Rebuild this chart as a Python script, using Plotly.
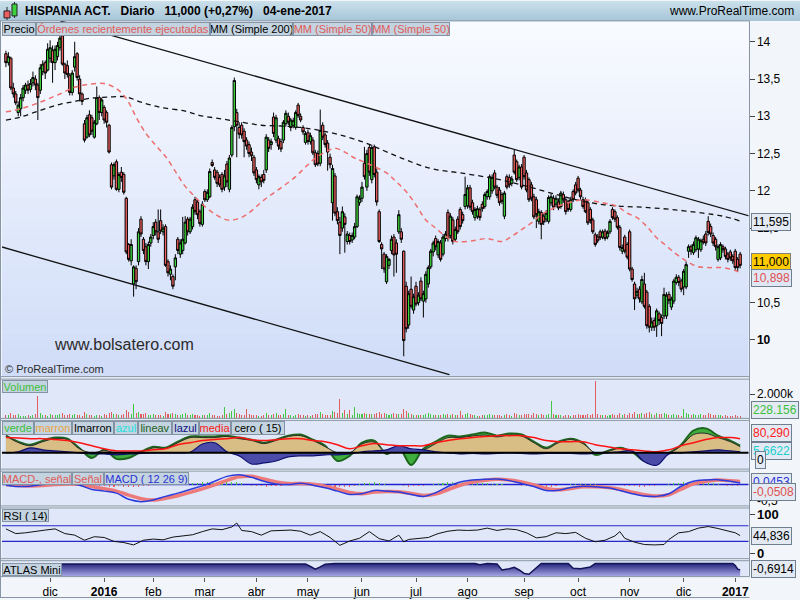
import pandas as pd
import plotly.graph_objects as go

# ---------------------------------------------------------------- DATA
TITLE = "HISPANIA ACT.\u00a0\u00a0\u00a0Diario\u00a0\u00a0\u00a011,000 (+0,27%)\u00a0\u00a0\u00a004-ene-2017"
START, END = "2015-11-05", "2017-01-04"
HOLIDAYS = ["2015-12-25", "2016-01-01", "2016-03-25", "2016-03-28", "2016-12-26"]
MONTHS_ES = ["ene", "feb", "mar", "abr", "may", "jun", "jul", "ago", "sep", "oct", "nov", "dic"]

OPEN = [13.84,13.72,13.78,13.38,13.30,13.05,13.10,13.25,13.35,13.42,
        13.36,13.45,13.50,13.42,13.35,13.60,13.72,13.62,13.78,13.88,
        13.72,13.80,13.92,14.08,13.70,13.68,13.55,13.32,13.66,13.84,
        13.50,13.30,12.90,12.72,13.02,12.98,12.72,12.90,13.25,13.05,
        13.12,13.05,12.88,12.35,12.20,12.39,12.02,12.25,12.22,11.90,
        11.28,11.06,10.75,10.96,11.05,11.62,11.35,11.25,11.05,11.30,
        11.40,11.58,11.45,11.60,11.45,11.52,11.05,10.88,10.85,10.98,
        11.35,11.15,11.20,11.30,11.62,11.45,11.52,11.88,11.85,11.72,
        11.55,11.99,11.88,11.92,12.38,12.28,12.25,12.18,12.22,12.05,
        12.36,12.02,12.48,12.86,13.05,12.85,12.88,12.80,12.68,12.62,
        12.52,12.45,12.28,12.08,12.18,12.22,12.28,12.68,12.62,12.99,
        12.68,12.70,12.66,12.68,12.90,13.00,12.85,12.88,12.85,13.15,
        13.00,12.85,12.65,12.78,12.66,12.68,12.51,12.50,12.37,12.88,
        12.75,12.64,12.45,11.84,12.20,11.72,11.58,11.50,11.65,11.32,
        11.40,11.34,11.38,11.52,11.84,11.90,12.37,12.05,12.58,12.15,
        12.59,12.25,11.72,11.28,11.15,10.78,11.00,11.20,11.38,11.30,
        11.45,11.45,11.19,10.72,10.20,10.68,10.40,10.72,10.50,10.79,
        10.52,10.55,10.75,10.98,11.18,11.36,11.14,11.30,11.15,11.36,
        11.71,11.40,11.61,11.35,11.62,11.75,11.68,11.79,11.80,12.04,
        11.84,11.64,11.66,11.75,11.82,11.79,11.92,11.92,12.00,12.24,
        12.05,12.01,11.95,11.66,12.19,12.18,12.10,12.48,12.39,12.18,
        12.32,12.45,12.24,12.15,12.08,11.92,11.88,11.59,11.71,11.66,
        11.62,11.59,11.84,11.90,11.82,11.85,11.79,11.95,11.88,11.85,
        11.75,11.99,12.08,12.17,12.01,11.88,11.88,11.84,11.75,11.61,
        11.41,11.38,11.45,11.38,11.46,11.38,11.45,11.75,11.72,11.64,
        11.51,11.19,11.38,11.28,11.45,10.95,10.75,10.60,10.68,10.51,
        10.75,10.64,10.45,10.17,10.26,10.19,10.35,10.30,10.32,10.32,
        10.61,10.44,10.52,10.77,10.84,10.79,10.71,10.71,11.19,11.25,
        11.17,11.21,11.22,11.21,11.35,11.42,11.59,11.52,11.40,11.35,
        11.08,11.10,11.25,11.22,11.15,11.18,11.12,11.19,11.08,11.15]
HIGH = [13.88,13.86,13.80,13.45,13.34,13.20,13.30,13.42,13.45,13.48,
        13.50,13.60,13.55,13.45,13.70,13.75,13.75,13.98,14.02,13.95,
        13.95,14.00,14.10,14.12,13.72,13.75,13.58,13.62,14.00,13.86,
        13.55,13.32,12.95,13.02,13.08,13.02,12.95,13.40,13.28,13.25,
        13.15,13.08,12.90,12.38,12.38,12.42,12.25,12.32,12.25,11.92,
        11.30,11.35,11.00,11.00,11.50,11.66,11.38,11.30,11.32,11.42,
        11.58,11.62,11.75,11.75,11.55,11.55,11.08,11.00,10.88,11.15,
        11.38,11.35,11.65,11.66,11.65,11.65,11.82,11.92,11.88,11.75,
        11.86,12.02,12.02,12.30,12.42,12.32,12.28,12.22,12.25,12.28,
        12.40,12.48,12.88,13.52,13.10,12.92,12.92,12.84,12.72,12.66,
        12.58,12.48,12.32,12.22,12.22,12.28,12.76,12.72,12.70,13.05,
        13.02,12.74,12.70,12.95,13.08,13.05,12.98,12.98,13.08,13.18,
        13.04,12.88,12.80,12.82,12.78,12.72,12.55,12.54,13.09,12.92,
        12.78,12.68,12.50,12.35,12.24,11.78,11.65,11.79,11.70,11.46,
        11.44,11.44,11.57,11.95,11.94,12.12,12.59,12.55,12.62,12.62,
        12.62,12.30,11.75,11.31,11.18,11.15,11.10,11.40,11.42,11.35,
        11.74,11.50,11.20,10.78,10.66,10.85,10.62,10.78,10.64,10.84,
        10.66,10.92,11.00,11.22,11.33,11.40,11.35,11.34,11.42,11.46,
        11.75,11.70,11.65,11.52,11.66,11.78,11.72,12.19,12.08,12.08,
        11.88,11.78,11.80,11.78,11.86,11.98,12.02,12.22,12.22,12.28,
        12.08,12.05,11.98,12.00,12.22,12.22,12.20,12.55,12.42,12.35,
        12.36,12.48,12.28,12.18,12.12,11.96,11.92,11.76,11.74,11.70,
        11.74,11.94,11.96,11.94,11.94,11.90,12.00,11.99,11.92,11.88,
        11.92,12.02,12.12,12.20,12.04,11.92,11.91,11.87,11.78,11.64,
        11.44,11.42,11.48,11.48,11.49,11.47,11.62,11.78,11.75,11.67,
        11.54,11.28,11.41,11.31,11.48,10.98,10.78,10.70,10.72,10.86,
        10.90,10.67,10.48,10.30,10.30,10.42,10.38,10.34,10.70,10.64,
        10.65,10.58,10.82,10.88,10.87,10.82,10.95,11.05,11.28,11.28,
        11.32,11.40,11.38,11.36,11.40,11.46,11.66,11.56,11.44,11.38,
        11.28,11.31,11.28,11.25,11.18,11.21,11.15,11.22,11.11,11.18]
LOW = [13.66,13.68,13.35,13.25,13.15,13.00,13.00,13.20,13.30,13.30,
       13.32,13.40,13.35,12.95,13.30,13.55,13.50,13.60,13.72,13.45,
       13.62,13.75,13.88,13.68,13.50,13.52,13.28,13.28,13.60,13.48,
       13.20,13.15,12.65,12.70,12.72,12.75,12.70,12.88,12.95,13.00,
       12.90,12.85,12.50,12.02,12.15,12.00,11.98,12.12,11.95,11.15,
       11.05,11.00,10.58,10.68,11.00,11.38,11.15,11.00,10.95,11.25,
       11.35,11.40,11.30,11.42,11.40,10.98,10.85,10.80,10.68,10.80,
       11.15,11.10,11.15,11.28,11.40,11.42,11.48,11.68,11.62,11.52,
       11.52,11.85,11.85,11.90,12.32,12.15,12.05,12.05,11.98,12.00,
       12.05,11.98,12.45,12.80,12.45,12.70,12.70,12.45,12.55,12.45,
       12.40,12.20,12.10,12.02,12.05,12.10,12.24,12.52,12.55,12.72,
       12.64,12.55,12.52,12.64,12.86,12.88,12.80,12.84,12.82,12.98,
       12.92,12.75,12.62,12.62,12.62,12.48,12.32,12.33,12.33,12.68,
       12.58,12.27,12.30,11.60,11.66,11.55,11.15,11.45,11.17,11.28,
       11.28,11.30,11.35,11.50,11.80,11.85,12.15,12.00,12.20,12.10,
       12.18,11.80,11.30,10.95,10.90,10.75,10.95,11.15,10.85,10.90,
       11.42,11.30,9.78,10.10,10.15,10.42,10.35,10.45,10.46,10.52,
       10.30,10.50,10.70,10.95,11.12,11.20,11.10,11.05,11.12,11.32,
       11.32,11.36,11.28,11.32,11.42,11.48,11.56,11.75,11.76,11.74,
       11.68,11.60,11.62,11.60,11.72,11.76,11.88,11.88,11.96,12.02,
       11.90,11.80,11.82,11.62,12.02,12.04,12.06,12.22,12.12,12.14,
       12.02,12.15,11.98,11.85,11.86,11.62,11.50,11.55,11.35,11.54,
       11.58,11.56,11.80,11.74,11.78,11.74,11.76,11.84,11.68,11.72,
       11.72,11.85,11.94,11.98,11.88,11.76,11.70,11.54,11.56,11.42,
       11.25,11.30,11.34,11.35,11.33,11.35,11.42,11.61,11.58,11.48,
       11.20,11.15,11.16,11.08,10.92,10.78,10.40,10.56,10.50,10.48,
       10.42,10.15,10.10,10.12,10.12,10.04,10.20,10.05,10.28,10.28,
       10.48,10.40,10.48,10.74,10.72,10.64,10.60,10.68,11.10,11.14,
       11.14,11.18,11.10,11.18,11.28,11.26,11.40,11.38,11.26,11.20,
       11.05,11.07,11.17,11.08,11.04,11.06,11.02,10.94,10.92,10.96]
CLOSE = [13.72,13.80,13.38,13.30,13.18,13.15,13.25,13.38,13.42,13.35,
         13.44,13.52,13.42,13.25,13.65,13.70,13.58,13.90,13.92,13.72,
         13.90,13.95,14.05,13.70,13.58,13.56,13.32,13.58,13.80,13.52,
         13.30,13.20,12.68,12.98,12.75,12.80,12.92,13.25,13.05,13.22,
         12.95,12.92,12.52,12.05,12.35,12.02,12.22,12.18,11.98,11.18,
         11.08,11.28,10.98,10.78,11.45,11.42,11.20,11.05,11.28,11.38,
         11.52,11.45,11.35,11.46,11.50,11.00,10.90,10.95,10.72,11.10,
         11.20,11.30,11.35,11.58,11.45,11.62,11.78,11.72,11.68,11.56,
         11.82,11.88,11.98,12.26,12.34,12.18,12.10,12.08,12.02,12.20,
         12.12,12.44,12.85,13.48,12.88,12.76,12.75,12.66,12.60,12.50,
         12.47,12.24,12.15,12.19,12.12,12.14,12.72,12.57,12.66,12.77,
         12.98,12.60,12.56,12.92,13.04,12.92,12.95,12.94,13.05,13.01,
         12.95,12.79,12.77,12.66,12.74,12.51,12.35,12.36,12.81,12.72,
         12.62,12.52,12.35,12.30,11.70,11.60,11.40,11.72,11.55,11.42,
         11.32,11.40,11.52,11.92,11.90,12.05,12.19,12.50,12.25,12.58,
         12.22,11.85,11.32,11.22,10.95,11.12,11.08,11.35,11.14,11.15,
         11.68,11.35,9.99,10.15,10.62,10.45,10.58,10.48,10.60,10.55,
         10.62,10.88,10.97,11.19,11.30,11.25,11.32,11.08,11.38,11.42,
         11.36,11.66,11.32,11.48,11.45,11.52,11.60,11.95,12.04,11.78,
         11.72,11.75,11.76,11.64,11.76,11.95,11.99,12.19,12.18,12.05,
         11.94,11.84,11.86,11.97,12.05,12.08,12.16,12.25,12.15,12.32,
         12.05,12.19,12.01,11.88,11.90,11.65,11.68,11.72,11.55,11.58,
         11.70,11.91,11.92,11.78,11.90,11.77,11.97,11.88,11.72,11.75,
         11.88,11.88,11.97,12.01,11.92,11.79,11.72,11.57,11.60,11.45,
         11.28,11.33,11.37,11.45,11.36,11.44,11.59,11.64,11.62,11.51,
         11.24,11.24,11.19,11.11,10.95,10.81,10.55,10.65,10.55,10.81,
         10.45,10.19,10.17,10.24,10.17,10.39,10.26,10.22,10.61,10.60,
         10.53,10.55,10.79,10.84,10.77,10.68,10.92,11.01,11.25,11.19,
         11.28,11.37,11.35,11.33,11.31,11.30,11.44,11.42,11.30,11.25,
         11.25,11.28,11.21,11.12,11.08,11.10,11.06,10.97,10.97,11.00]
# volume in thousands of shares
VOLUME = [320,280,450,300,260,380,240,210,190,260,230,280,350,1860,420,300,260,240,380,290,
          250,300,340,420,280,260,350,300,380,260,310,240,520,330,280,250,220,300,260,180,
          350,290,420,560,330,380,300,260,340,680,520,400,1170,460,520,380,340,420,300,280,
          330,280,300,260,240,520,400,350,420,380,300,260,340,420,300,280,350,300,260,240,
          320,280,260,450,300,260,240,220,280,920,380,460,600,750,420,350,300,280,750,330,
          280,260,300,240,220,260,480,300,260,380,420,300,260,350,750,300,280,240,320,350,
          280,300,240,260,230,300,380,340,520,360,300,280,320,640,520,420,1580,480,700,380,
          700,300,920,420,330,360,420,380,350,400,360,420,520,400,460,380,300,340,420,380,
          350,400,750,620,450,380,300,320,260,280,250,380,420,380,300,280,260,300,350,280,
          360,300,330,260,280,650,300,360,420,330,280,250,240,220,260,300,280,360,320,300,
          260,280,240,300,330,260,240,420,350,280,300,380,330,360,300,420,400,300,360,280,
          260,380,1440,330,300,260,280,240,300,260,240,300,280,350,260,300,280,380,300,330,
          3100,380,300,260,280,240,300,330,260,280,420,300,350,300,450,400,520,380,340,420,
          380,450,500,340,300,420,330,360,480,400,300,280,360,300,260,240,750,420,380,300,
          330,300,280,350,260,300,420,330,300,260,280,250,240,300,220,200,180,260,240,228.156]

MM200_X = [0,6,14,22,28,34,43,49,55,63,73,79,87,96,104,112,120,128,136,145,
           151,161,173,185,198,210,222,235,247,259,271,284,292,299]
MM200 = [12.95,12.99,13.08,13.16,13.20,13.24,13.26,13.26,13.19,13.12,13.07,13.01,12.97,12.92,
         12.88,12.87,12.85,12.81,12.75,12.66,12.58,12.44,12.30,12.24,12.17,12.08,11.97,11.86,
         11.80,11.78,11.75,11.70,11.66,11.595]
MM50_X = [0,6,14,22,28,34,40,45,49,53,57,61,65,69,73,77,81,85,90,94,98,102,106,112,118,122,
          126,130,134,138,142,147,155,159,163,167,171,175,179,183,190,196,202,206,210,214,218,
          222,226,229,235,243,249,253,257,261,265,269,273,277,281,286,292,297,299]
MM50 = [13.06,13.10,13.19,13.30,13.39,13.43,13.44,13.37,13.24,12.99,12.77,12.61,12.46,12.26,
        12.06,11.92,11.79,11.69,11.61,11.62,11.68,11.79,11.90,12.04,12.19,12.32,12.44,12.52,
        12.57,12.52,12.44,12.37,12.24,12.12,11.99,11.81,11.61,11.50,11.39,11.32,11.33,11.36,
        11.32,11.39,11.48,11.57,11.68,11.75,11.81,11.84,11.88,11.84,11.79,11.70,11.64,11.52,
        11.37,11.26,11.15,11.06,10.99,10.97,10.97,10.93,10.898]
CHANNEL_UP_X, CHANNEL_UP = [22.1, 303.0], [14.28, 11.66]
CHANNEL_LO_X, CHANNEL_LO = [-2.4, 180.6], [11.253, 9.533]

K_X = [0,5,10,15,20,25,30,35,40,45,50,55,60,65,70,75,80,85,90,95,100,105,110,115,120,125,
       130,135,140,145,150,155,160,165,170,175,180,185,190,195,200,205,210,215,220,225,230,
       235,240,245,250,255,260,265,270,275,280,285,290,295,299]
VERDE = [97,63,46,69,86,80,25,-29,17,-34,-29,6,34,29,63,92,92,92,97,86,74,57,74,97,103,74,
         40,-46,-17,57,69,-6,29,-69,23,63,97,92,103,115,97,109,103,63,29,63,80,57,-11,11,29,
         6,-46,-34,0,46,126,138,97,69,40]
MARRON = [95,58,40,63,80,75,22,0,12,0,0,4,28,25,57,86,86,86,92,80,70,52,70,92,97,70,35,0,0,
          50,60,0,25,0,15,52,86,86,95,100,90,100,95,57,23,57,75,52,0,8,25,4,0,0,0,40,103,110,
          86,63,35]
AZUL = [0,6,28,17,11,6,0,-6,-6,-11,-6,-3,0,0,0,3,50,57,6,-17,-63,-57,-46,-23,-17,-17,-11,
        -11,-6,6,11,17,40,23,17,6,0,-6,-3,-6,-3,0,-3,-6,-3,-3,-3,-6,-3,0,6,11,-50,-70,-6,0,
        6,11,17,11,6]
MEDIA = [86,83,80,80,75,69,57,40,23,11,11,11,17,23,46,57,69,75,80,86,74,69,74,80,80,69,63,
         46,23,40,52,46,40,40,40,57,69,80,86,92,97,97,97,86,69,63,63,63,46,34,23,17,11,6,17,
         40,57,75,86,86,80]

MACD = [-0.02,-0.06,-0.05,0.0,0.04,0.03,-0.02,-0.15,-0.20,-0.26,-0.45,-0.52,-0.47,-0.36,
        -0.26,-0.15,-0.04,0.10,0.25,0.30,0.22,0.10,0.02,0.0,0.04,-0.02,-0.10,-0.20,-0.30,
        -0.28,-0.18,-0.20,-0.23,-0.30,-0.36,-0.25,-0.06,0.08,0.14,0.16,0.17,0.12,0.03,-0.06,
        -0.18,-0.17,-0.09,-0.05,-0.07,-0.10,-0.18,-0.28,-0.35,-0.36,-0.28,-0.05,0.10,0.14,
        0.15,0.10,0.045]
SIGNAL = [0.0,-0.03,-0.04,-0.03,0.0,0.02,0.01,-0.06,-0.13,-0.20,-0.32,-0.43,-0.47,-0.42,
          -0.34,-0.24,-0.13,-0.01,0.13,0.24,0.25,0.17,0.08,0.03,0.03,0.01,-0.05,-0.14,-0.24,
          -0.28,-0.23,-0.21,-0.22,-0.27,-0.33,-0.29,-0.16,-0.02,0.08,0.13,0.16,0.14,0.08,
          -0.01,-0.12,-0.16,-0.12,-0.07,-0.07,-0.09,-0.14,-0.23,-0.31,-0.35,-0.31,-0.14,0.02,
          0.10,0.14,0.12,0.096]
HIST_X = list(range(0, 300, 2))
HIST = [-0.01,-0.02,-0.02,-0.01,0.01,0.02,0.03,0.03,0.02,0.02,
        0.01,0.0,-0.01,-0.02,-0.03,-0.04,-0.04,-0.05,-0.05,-0.04,
        -0.05,-0.06,-0.06,-0.05,-0.07,-0.08,-0.08,-0.06,-0.05,-0.03,
        -0.01,0.01,0.02,0.03,0.03,0.04,0.05,0.06,0.06,0.06,
        0.07,0.07,0.08,0.08,0.09,0.08,0.09,0.08,0.04,0.0,
        -0.03,-0.05,-0.05,-0.06,-0.05,-0.04,-0.03,-0.02,0.0,0.01,
        0.01,0.0,-0.02,-0.03,-0.05,-0.06,-0.07,-0.07,-0.08,-0.07,
        -0.06,-0.03,0.01,0.04,0.06,0.07,0.06,0.03,0.0,-0.02,
        -0.02,-0.04,-0.06,-0.05,-0.04,-0.03,-0.01,0.02,0.04,0.06,
        0.07,0.08,0.08,0.07,0.06,0.05,0.05,0.04,0.04,0.03,
        0.02,0.01,0.0,-0.01,-0.02,-0.03,-0.04,-0.05,-0.06,-0.07,
        -0.07,-0.06,-0.04,-0.02,-0.01,0.01,0.02,0.03,0.03,0.02,
        0.01,-0.01,-0.02,-0.02,-0.01,-0.02,-0.03,-0.04,-0.05,-0.06,
        -0.06,-0.05,-0.04,-0.02,0.0,0.02,0.04,0.06,0.08,0.09,
        0.10,0.09,0.08,0.06,0.04,0.02,-0.01,-0.03,-0.04,-0.05]

RSI_X = [0,4,8,12,16,20,24,28,32,36,40,44,48,52,56,60,64,68,72,76,80,84,88,92,94,96,100,
         104,108,112,116,120,124,128,132,136,140,144,148,152,156,160,162,164,168,172,176,
         180,184,188,192,196,200,204,208,212,216,220,224,228,232,236,240,244,248,250,252,
         256,260,264,268,270,274,278,282,286,290,294,297,299]
RSI = [62,50,52,56,59,62,50,46,33,42,40,30,27,21,33,36,34,41,44,47,55,62,60,67,77,58,55,
       46,57,58,59,56,46,55,40,20,31,38,55,37,31,46,29,35,37,40,50,56,59,58,59,64,58,62,60,
       52,39,42,52,50,53,38,29,33,44,55,38,28,22,21,22,35,52,55,64,68,63,57,52,44.836]

ATLAS_X = [-2,122,124,126,128,130,134,191,193,196,200,202,205,207,209,211,213,215,218,229,
           231,234,236,238,240,296,297,298,299]
ATLAS = [0.0,0.0,-0.3,-0.6,-0.35,-0.05,0.05,0.05,-0.1,0.05,0.0,-0.7,-0.55,-0.4,-0.7,-1.1,
         -1.2,-0.7,0.05,0.05,-0.5,-0.55,-0.45,-0.35,0.05,0.05,-0.2,-0.6,-0.6914]

# ---------------------------------------------------------------- STYLE / LAYOUT
FONT = "Liberation Sans, Arial, sans-serif"
W, H = 800, 600
PX_L, PX_R = 2, 748.5
PANELS = {"price": (20, 377.5), "vol": (380, 419.5), "kon": (421.5, 470.5),
          "macd": (472.5, 507.5), "rsi": (509.5, 560.5), "atlas": (562.5, 578.5)}
RANGES = {"price": [9.507, 14.28], "vol": [0, 3250], "kon": [-92, 183],
          "macd": [-0.652, 0.409], "rsi": [-14.3, 115.6], "atlas": [-1.463, 0.366]}
ATLAS_FLOOR = RANGES["atlas"][0]


def fx(px):
    return px / W


def fy(py):
    return 1 - py / H


dates = pd.bdate_range(START, END)
dates = dates[~dates.isin(pd.to_datetime(HOLIDAYS))]
N = len(CLOSE)
X = list(range(N))

tickvals, ticktext = [], []
for i in range(1, min(len(dates), N + 3)):
    d = dates[i]
    if d.month != dates[i - 1].month:
        tickvals.append(i)
        ticktext.append(f"<b>{d.year}</b>" if d.month == 1 else MONTHS_ES[d.month - 1])

fig = go.Figure()
common = dict(hoverinfo="skip", showlegend=False)

# channel lines
fig.add_trace(go.Scatter(x=CHANNEL_UP_X, y=CHANNEL_UP, mode="lines",
                         line=dict(color="#111111", width=1.3), xaxis="x", yaxis="y", **common))
fig.add_trace(go.Scatter(x=CHANNEL_LO_X, y=CHANNEL_LO, mode="lines",
                         line=dict(color="#111111", width=1.3), xaxis="x", yaxis="y", **common))
# candles
fig.add_trace(go.Candlestick(x=X, open=OPEN, high=HIGH, low=LOW, close=CLOSE,
                             increasing=dict(fillcolor="#3cd43c", line=dict(color="#000000", width=1)),
                             decreasing=dict(fillcolor="#ee5f5f", line=dict(color="#000000", width=1)),
                             whiskerwidth=0, xaxis="x", yaxis="y", hoverinfo="skip", showlegend=False))
# moving averages
fig.add_trace(go.Scatter(x=MM200_X, y=MM200, mode="lines", line_shape="spline",
                         line=dict(color="#111111", width=1.3, dash="5px,4px"),
                         xaxis="x", yaxis="y", **common))
fig.add_trace(go.Scatter(x=MM50_X, y=MM50, mode="lines", line_shape="spline",
                         line=dict(color="#ee6e6e", width=1.5, dash="5px,4px"),
                         xaxis="x", yaxis="y", **common))

# volume
vcol = ["#44c844" if c >= o else "#e25d5d" for o, c in zip(OPEN, CLOSE)]
fig.add_trace(go.Bar(x=X, y=VOLUME, marker=dict(color=vcol, line=dict(width=0)), width=0.42,
                     xaxis="x", yaxis="y2", **common))

# Koncorde-type indicator
kw = dict(mode="lines", line_shape="spline", xaxis="x", yaxis="y3", **common)
fig.add_trace(go.Scatter(x=K_X, y=VERDE, fill="tozeroy", fillcolor="#3fae3f",
                         line=dict(color="#1d661d", width=2), **kw))
fig.add_trace(go.Scatter(x=K_X, y=MARRON, fill="tozeroy", fillcolor="#d8bd84",
                         line=dict(color="#2a2a2a", width=1), **kw))
fig.add_trace(go.Scatter(x=K_X, y=AZUL, fill="tozeroy", fillcolor="#4b4ca8",
                         line=dict(color="#101070", width=1.2), **kw))
fig.add_trace(go.Scatter(x=K_X, y=MEDIA, line=dict(color="#ff1414", width=1.5), **kw))

# MACD
hcol = ["#44c844" if v >= 0 else "#e25d5d" for v in HIST]
fig.add_trace(go.Bar(x=HIST_X, y=HIST, marker=dict(color=hcol, line=dict(width=0)), width=0.45,
                     xaxis="x", yaxis="y4", **common))
fig.add_trace(go.Scatter(x=K_X, y=SIGNAL, mode="lines", line_shape="spline",
                         line=dict(color="#ec7a7a", width=3.5), xaxis="x", yaxis="y4", **common))
fig.add_trace(go.Scatter(x=K_X, y=MACD, mode="lines", line_shape="spline",
                         line=dict(color="#2b3bdc", width=1.5), xaxis="x", yaxis="y4", **common))

# RSI
fig.add_trace(go.Scatter(x=RSI_X, y=RSI, mode="lines", line=dict(color="#111111", width=1),
                         xaxis="x", yaxis="y5", **common))

# ATLAS Mini
fig.add_trace(go.Scatter(x=ATLAS_X, y=[ATLAS_FLOOR] * len(ATLAS_X), mode="lines",
                         line=dict(width=0, color="rgba(0,0,0,0)"), xaxis="x", yaxis="y6", **common))
fig.add_trace(go.Scatter(x=ATLAS_X, y=ATLAS, mode="lines", fill="tonexty",
                         fillgradient=dict(type="vertical",
                                           colorscale=[[0, "#a9a9ea"], [1, "#26267c"]]),
                         line=dict(color="#14145a", width=1.5), xaxis="x", yaxis="y6", **common))

# ---------------------------------------------------------------- shapes
shapes = []
# title bar gradient
tb_top, tb_bot = (203, 224, 235), (166, 197, 215)
for k in range(10):
    t = (k + 0.5) / 10
    c = tuple(round(tb_top[j] + (tb_bot[j] - tb_top[j]) * t) for j in range(3))
    shapes.append(dict(type="rect", xref="paper", yref="paper", x0=0, x1=1,
                       y0=fy(2 * (k + 1)), y1=fy(2 * k), fillcolor=f"rgb{c}", line_width=0, layer="below"))
# price panel gradient
top, bot = (249, 251, 255), (207, 220, 248)
p0, p1 = PANELS["price"]
nb = 40
for k in range(nb):
    a = p0 + (p1 - p0) * k / nb
    b = p0 + (p1 - p0) * (k + 1) / nb
    t = (k + 0.5) / nb
    c = tuple(round(top[j] + (bot[j] - top[j]) * t) for j in range(3))
    shapes.append(dict(type="rect", xref="paper", yref="paper", x0=fx(PX_L), x1=fx(PX_R),
                       y0=fy(b + 0.3), y1=fy(a), fillcolor=f"rgb{c}", line_width=0, layer="below"))
# lower panels background
for key in ["vol", "kon", "macd", "rsi", "atlas"]:
    a, b = PANELS[key]
    shapes.append(dict(type="rect", xref="paper", yref="paper", x0=fx(PX_L), x1=fx(PX_R),
                       y0=fy(b), y1=fy(a), fillcolor="#dfe7f8", line_width=0, layer="below"))
# reference lines
shapes.append(dict(type="line", xref="paper", yref="y3", x0=fx(PX_L), x1=fx(PX_R), y0=0, y1=0,
                   line=dict(color="#000000", width=2)))
shapes.append(dict(type="line", xref="paper", yref="y4", x0=fx(PX_L), x1=fx(PX_R), y0=0, y1=0,
                   line=dict(color="#2020d0", width=1.5), layer="below"))
for lvl in (70, 30):
    shapes.append(dict(type="line", xref="paper", yref="y5", x0=fx(PX_L), x1=fx(PX_R), y0=lvl, y1=lvl,
                       line=dict(color="#2828c8", width=1.2), layer="below"))
# separators
SEP = "#8796a6"
for py in [20, 377.5, 380, 419.5, 421.5, 470.5, 472.5, 507.5, 509.5, 560.5, 562.5, 578.5, 599.5]:
    shapes.append(dict(type="line", xref="paper", yref="paper", x0=0, x1=fx(749.5), y0=fy(py), y1=fy(py),
                       line=dict(color=SEP, width=1)))
shapes.append(dict(type="line", xref="paper", yref="paper", x0=fx(749.5), x1=fx(749.5),
                   y0=fy(578.5), y1=fy(20), line=dict(color=SEP, width=1)))
shapes.append(dict(type="line", xref="paper", yref="paper", x0=fx(0.5), x1=fx(0.5),
                   y0=0, y1=fy(20), line=dict(color=SEP, width=1)))
# icon in title bar
shapes += [
    dict(type="line", xref="paper", yref="paper", x0=fx(7), x1=fx(7), y0=fy(19), y1=fy(6),
         line=dict(color="#222", width=1)),
    dict(type="rect", xref="paper", yref="paper", x0=fx(4), x1=fx(10), y0=fy(17), y1=fy(10),
         fillcolor="#ee5f5f", line=dict(color="#222", width=1)),
    dict(type="line", xref="paper", yref="paper", x0=fx(14.5), x1=fx(14.5), y0=fy(17), y1=fy(1),
         line=dict(color="#222", width=1)),
    dict(type="rect", xref="paper", yref="paper", x0=fx(12), x1=fx(17), y0=fy(15), y1=fy(3),
         fillcolor="#3cd43c", line=dict(color="#222", width=1)),
]

# ---------------------------------------------------------------- annotations
ann = []
LBOX_FONT = 11


def text_at(txt, px, py, size=12, color="#000", anchor="left", bold=False):
    ann.append(dict(text=f"<b>{txt}</b>" if bold else txt, x=fx(px), y=fy(py), xref="paper",
                    yref="paper", xanchor=anchor, yanchor="middle", showarrow=False,
                    font=dict(family=FONT, size=size, color=color)))


def lbox(txt, px0, px1, py0, py1, color):
    ann.append(dict(text=txt, x=fx(px0), y=fy((py0 + py1) / 2), xref="paper", yref="paper",
                    xanchor="left", yanchor="middle", showarrow=False, align="center",
                    width=px1 - px0 - 2, height=py1 - py0 - 2, borderpad=0,
                    bgcolor="#c3d3df", bordercolor="#8494a4", borderwidth=1,
                    font=dict(family=FONT, size=LBOX_FONT, color=color)))


def vbox(txt, py, color, bg="#e3eaf3", border="#6f7f8f", px=751):
    ann.append(dict(text=txt, x=fx(px), y=fy(py), xref="paper", yref="paper",
                    xanchor="left", yanchor="middle", showarrow=False,
                    bgcolor=bg, bordercolor=border, borderwidth=1, borderpad=1,
                    font=dict(family=FONT, size=12, color=color)))


text_at(TITLE, 23, 10, size=12, bold=True)
text_at("www.ProRealTime.com", 796, 10, size=12, anchor="right")

lbox("Precio", 2, 36, 21, 35, "#000000")
lbox("Órdenes recientemente ejecutadas", 36, 210, 21, 35, "#e05a5a")
lbox("MM (Simple 200)", 210, 293, 21, 35, "#000000")
lbox("MM (Simple 50)", 293, 372, 21, 35, "#e05a5a")
lbox("MM (Simple 50)", 372, 450, 21, 35, "#e05a5a")

lbox("Volumen", 2, 48, 380.5, 393.5, "#3cbf3c")

for txt, a, b, col in [("verde", 2, 34, "#3cbf3c"), ("marron", 34, 72, "#f0a444"),
                       ("lmarron", 72, 114, "#000000"), ("azul", 114, 138, "#22e0e0"),
                       ("lineav", 138, 172, "#1f5f1f"), ("lazul", 172, 199, "#101080"),
                       ("media", 199, 231, "#ff1a1a"), ("cero ( 15)", 231, 285, "#000000")]:
    lbox(txt, a, b, 422, 436, col)

for txt, a, b, col in [("MACD-, señal", 2, 72, "#e05a5a"), ("Señal", 72, 104, "#e05a5a"),
                       ("MACD ( 12 26 9)", 104, 189, "#2a32d8")]:
    lbox(txt, a, b, 473, 486, col)

lbox("RSI ( 14)", 2, 49, 510.5, 523.5, "#000000")
lbox("ATLAS Mini", 2, 62, 564.5, 577.5, "#000000")

text_at("www.bolsatero.com", 52, 345, size=16, color="#2a2a2a")
text_at("© ProRealTime.com", 3, 370, size=11, color="#2a2a2a")

vbox("11,595", 222.5, "#000000")
vbox("11,000", 262, "#000000", bg="#ffcc00", border="#808080")
vbox("10,898", 278.5, "#e05050", bg="#dfe7f4")
vbox("228.156", 411, "#3cbf3c")
vbox("80,290", 434, "#ff2020")
vbox("5,6622", 452, "#18d0d0")
vbox("0", 461.5, "#000000", px=755)
vbox("0,0453", 483.5, "#2a32d8")
vbox("-0,0508", 493.5, "#e05050")
vbox("44,836", 538, "#000000")
vbox("-0,6914", 570.5, "#000000")

# ---------------------------------------------------------------- axes
layout = dict(width=W, height=H, margin=dict(l=0, r=0, t=0, b=0),
              paper_bgcolor="#f2f5f9", plot_bgcolor="rgba(0,0,0,0)",
              showlegend=False, hovermode=False, dragmode=False,
              boxgap=0.05, boxgroupgap=0, bargap=0,
              font=dict(family=FONT, size=12, color="#000"),
              shapes=shapes, annotations=ann)

layout["xaxis"] = dict(domain=[fx(PX_L), fx(PX_R)], range=[-1.6, 302.4], anchor="y6",
                       tickvals=tickvals, ticktext=ticktext, ticks="outside", ticklen=4,
                       tickcolor="#555", tickfont=dict(size=12, family=FONT, color="#000"),
                       showgrid=False, zeroline=False, showline=False,
                       rangeslider=dict(visible=False), fixedrange=True)

ynames = {"price": "yaxis", "vol": "yaxis2", "kon": "yaxis3", "macd": "yaxis4",
          "rsi": "yaxis5", "atlas": "yaxis6"}
ticks = {
    # the "11" label sits fully under the 11,000 last-price box in the reference
    "price": ([10, 10.5, 11, 11.5, 12, 12.5, 13, 13.5, 14],
              ["<b>10</b>", "10,5", "", "11,5", "12", "12,5", "13", "13,5", "14"]),
    "vol": ([2000], ["2.000k"]),
    "kon": ([], []),
    "macd": ([-0.5], ["-0,5"]),
    "rsi": ([0, 100], ["<b>0</b>", "<b>100</b>"]),
    "atlas": ([], []),
}
for key, name in ynames.items():
    a, b = PANELS[key]
    tv, tt = ticks[key]
    layout[name] = dict(domain=[fy(b), fy(a)], range=RANGES[key], anchor="x", side="right",
                        tickvals=tv, ticktext=tt, ticks="outside" if tv else "", ticklen=5,
                        tickcolor="#444", tickfont=dict(size=13 if key == "rsi" else 12,
                                                        family=FONT, color="#000"),
                        showgrid=False, zeroline=False, showline=False, fixedrange=True)

fig.update_layout(**layout)

fig.write_html("out.html", config={"displayModeBar": False, "staticPlot": True},
               post_script="document.body.style.margin='0';document.body.style.overflow='hidden';")
